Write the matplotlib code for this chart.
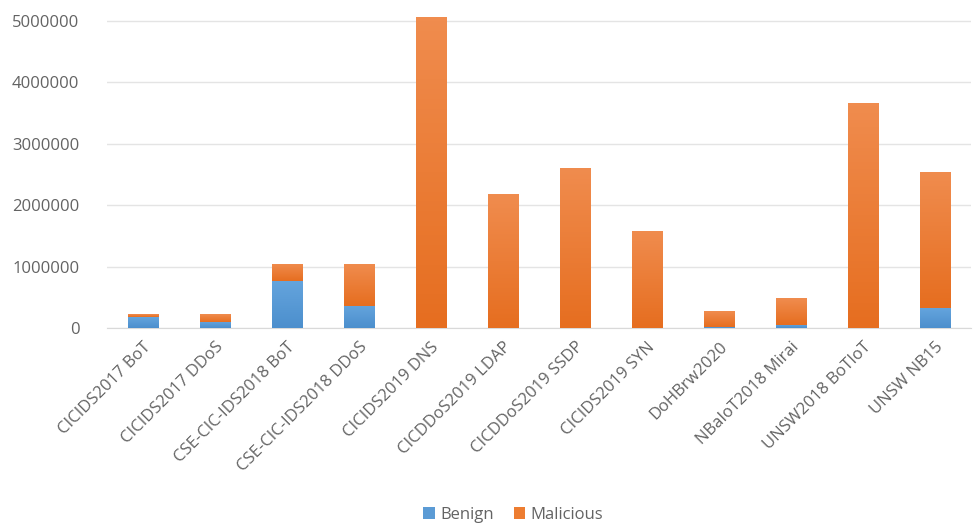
import numpy as np
import matplotlib.pyplot as plt
from matplotlib.colors import LinearSegmentedColormap

# Benign / malicious flow counts for each dataset
datasets = ['CICIDS2017 BoT', 'CICIDS2017 DDoS', 'CSE-CIC-IDS2018 BoT',
            'CSE-CIC-IDS2018 DDoS', 'CICIDS2019 DNS', 'CICDDoS2019 LDAP',
            'CICDDoS2019 SSDP', 'CICIDS2019 SYN', 'DoHBrw2020',
            'NBaIoT2018 Mirai', 'UNSW2018 BoTIoT', 'UNSW NB15']
benign = [175000, 98000, 762000, 360000, 3400, 1600,
          800, 400, 20000, 50000, 500, 320000]
malicious = [45000, 128000, 286000, 688000, 5071000, 2180000,
             2610000, 1582000, 250000, 440000, 3668000, 2218000]
yticks = [0, 1000000, 2000000, 3000000, 4000000, 5000000]

plt.rcParams['font.family'] = ['Open Sans', 'DejaVu Sans']

fig = plt.figure(figsize=(9.73, 5.28), dpi=100)
ax = fig.add_axes([0.11, 0.379, 0.888, 0.602])

x = np.arange(len(datasets))
w = 0.42
blue_bars = ax.bar(x, benign, w, color='#5B9BD5', label='Benign', zorder=2)
orange_bars = ax.bar(x, malicious, w, bottom=benign, color='#ED7D31',
                     label='Malicious', zorder=2)

# soft vertical gradient on each bar segment, light at the top
def shade(bars, top, bottom):
    cmap = LinearSegmentedColormap.from_list('g', [bottom, top])
    grad = np.linspace(0, 1, 64).reshape(-1, 1)
    for b in bars:
        x0, y0 = b.get_x(), b.get_y()
        h = b.get_height()
        if h <= 0:
            continue
        im = ax.imshow(grad, cmap=cmap, origin='lower', aspect='auto',
                       extent=(x0, x0 + b.get_width(), y0, y0 + h), zorder=3)
        im.set_clip_path(b)

shade(blue_bars, '#64A4DD', '#4C8FCD')
shade(orange_bars, '#F08C4E', '#E66E20')

ax.set_xlim(-0.5, len(datasets) - 0.5)
ax.set_ylim(0, 5180000)
ax.set_yticks(yticks)
ax.set_yticklabels([str(v) for v in yticks])
ax.set_xticks(x)
ax.set_xticklabels(datasets, rotation=45, ha='right', rotation_mode='anchor')

ax.grid(axis='y', color='#E4E4E4', linewidth=1, zorder=0)
for s in ['top', 'right', 'left']:
    ax.spines[s].set_visible(False)
ax.spines['bottom'].set_color('#D9D9D9')
ax.tick_params(axis='both', length=0, labelsize=12, colors='#636363', pad=8)
ax.tick_params(axis='y', pad=20)

ax.legend(loc='lower center', bbox_to_anchor=(0.47, -0.66), ncol=2,
          frameon=False, fontsize=12, handlelength=0.7, handleheight=0.7,
          handletextpad=0.3, columnspacing=1.2, labelcolor='#636363')

fig.savefig('out.png', dpi=100, facecolor='white')
